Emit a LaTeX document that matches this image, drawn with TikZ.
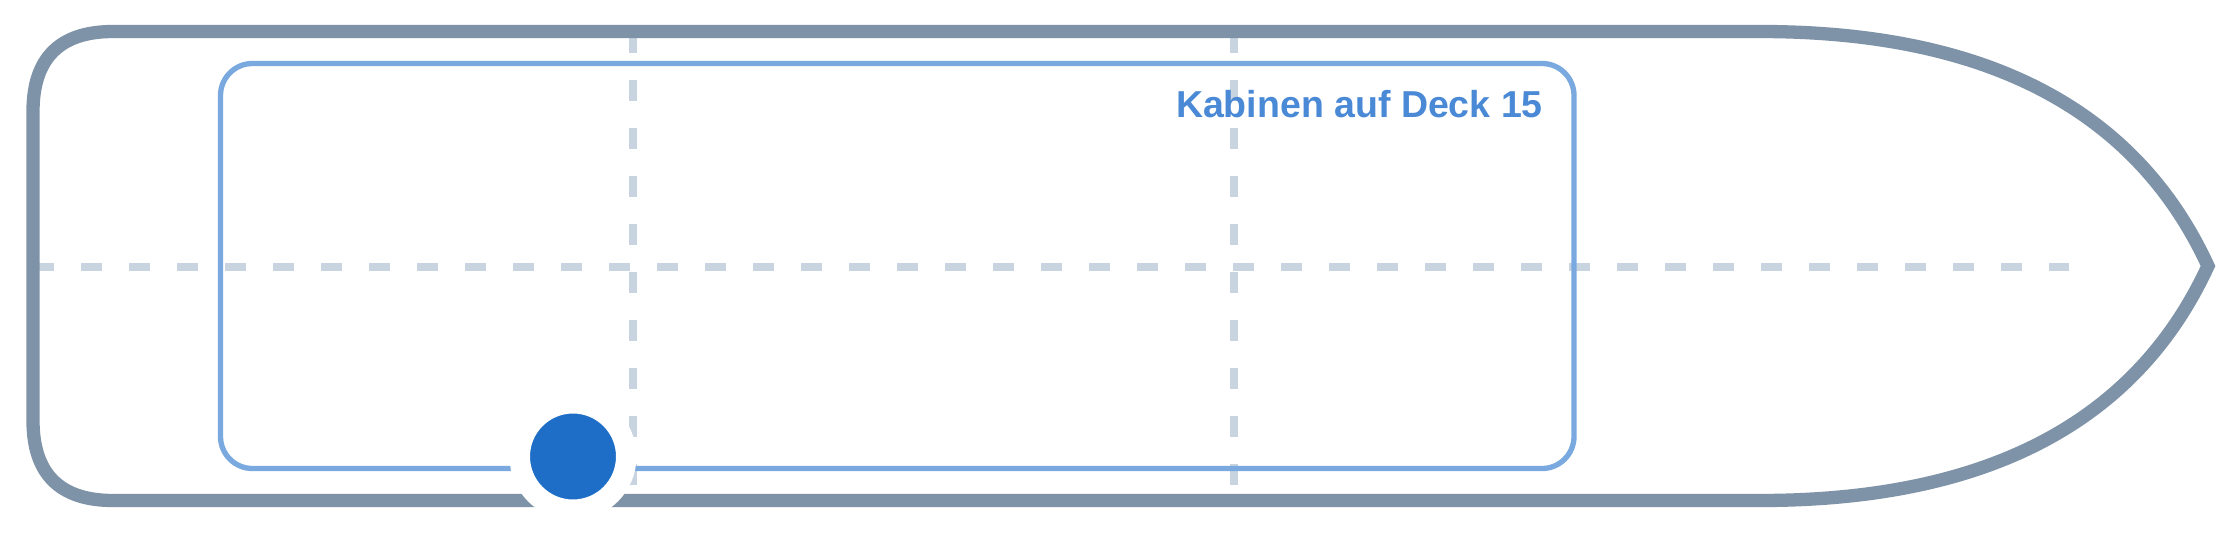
\documentclass[tikz,border=0pt]{standalone}
\usepackage{fontspec}
\setmainfont{Liberation Sans}
\definecolor{hullc}{RGB}{127,147,168}
\definecolor{innerc}{RGB}{122,169,223}
\definecolor{dashc}{RGB}{200,212,224}
\definecolor{dotc}{RGB}{30,110,200}
\definecolor{labelc}{RGB}{74,137,214}
\tikzset{
  hull/.style={draw=hullc, line width=13.3pt, line join=miter},
  deckbox/.style={draw=innerc, line width=5.33pt, rounded corners=32pt},
  axis/.style={draw=dashc, line width=8pt, dash pattern=on 21.33pt off 26.67pt},
  marker/.style={circle, fill=dotc, draw=white, line width=20.5pt, minimum size=106.5pt, inner sep=0pt},
  decklabel/.style={text=labelc, font=\fontsize{37.5}{45}\selectfont\bfseries, inner sep=0pt, anchor=base east}
}
\begin{document}
\begin{tikzpicture}[x=1pt,y=-1pt]
\useasboundingbox (0,0) rectangle (2240,533);
\fill[white] (0,0) rectangle (2240,533);
% axes
\draw[axis] (33,266.5) -- (2069,266.5);
\draw[axis] (633,32) -- (633,500);
\draw[axis] (1234,32) -- (1234,500);
% hull
\draw[hull] (1760,31.5) -- (113,31.5) .. controls (59.7,31.5) and (33,58.2) .. (33,111.5)
  -- (33,420.5) .. controls (33,473.8) and (59.7,500.5) .. (113,500.5)
  -- (1760,500.5) .. controls (1986.7,500.5) and (2136,422.3) .. (2208,266)
  .. controls (2136,109.7) and (1986.7,31.5) .. cycle;
% deck area
\draw[deckbox] (220.5,63.5) rectangle (1574,468.5);
\node[decklabel] (label) at (1543,117) {Kabinen auf Deck 15};
% position marker
\node[marker] (pos) at (573,456.5) {};
\end{tikzpicture}
\end{document}
